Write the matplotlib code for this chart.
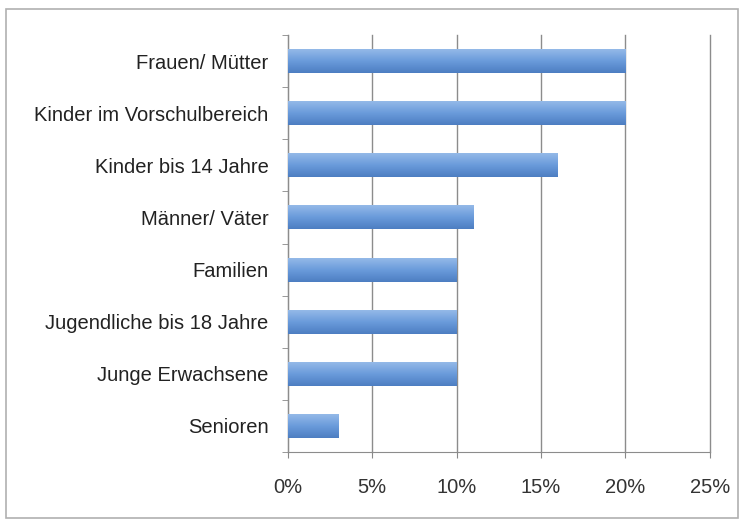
import numpy as np
import matplotlib
matplotlib.use("Agg")
from matplotlib import pyplot as plt
from matplotlib.colors import LinearSegmentedColormap
from matplotlib.patches import Rectangle

# Daten
categories = ["Frauen/ Mütter", "Kinder im Vorschulbereich", "Kinder bis 14 Jahre",
              "Männer/ Väter", "Familien", "Jugendliche bis 18 Jahre",
              "Junge Erwachsene", "Senioren"]
values = [20, 20, 16, 11, 10, 10, 10, 3]
xticks = [0, 5, 10, 15, 20, 25]

plt.rcParams['font.family'] = ['Liberation Sans', 'DejaVu Sans']

fig = plt.figure(figsize=(7.44, 5.22), dpi=100)
fig.patches.append(Rectangle((0.008, 0.008), 0.984, 0.975, transform=fig.transFigure,
                             fill=False, edgecolor='#b0b0b0', linewidth=1.2))
ax = fig.add_axes([0.387, 0.134, 0.567, 0.799])

n = len(categories)
ypos = np.arange(n)[::-1]
bar_h = 0.46
cmap = LinearSegmentedColormap.from_list("bar", ["#4d7ec2", "#6a9bdb", "#94b9e8"])
grad = np.linspace(0, 1, 64).reshape(-1, 1)

bars = ax.barh(ypos, values, height=bar_h, color='none', zorder=3)
for b in bars:
    x0, y0 = b.get_x(), b.get_y()
    im = ax.imshow(grad, cmap=cmap, aspect='auto', origin='lower',
                   extent=[x0, x0 + b.get_width(), y0, y0 + b.get_height()], zorder=3)
    im.set_clip_path(b)

ax.set_xlim(0, 25)
ax.set_ylim(-0.5, n - 0.5)
ax.set_xticks(xticks)
ax.set_xticklabels([f"{t}%" for t in xticks], fontsize=14.5, color='#333333')
ax.set_yticks(ypos)
ax.set_yticklabels(categories, fontsize=14.5, color='#222222')
ax.tick_params(axis='y', length=0, pad=14)
ax.tick_params(axis='x', length=4, color='#888888', pad=15)
ax.set_yticks(np.arange(-0.5, n, 1), minor=True)
ax.tick_params(axis='y', which='minor', length=4, color='#888888', direction='out')

ax.grid(axis='x', color='#8c8c8c', linewidth=1, zorder=0)
for gl in ax.get_xgridlines():
    gl.set_clip_on(False)
ax.set_axisbelow(True)
for s in ['top', 'right']:
    ax.spines[s].set_visible(False)
for s in ['left', 'bottom']:
    ax.spines[s].set_color('#8c8c8c')

fig.savefig("out.png", dpi=100)
